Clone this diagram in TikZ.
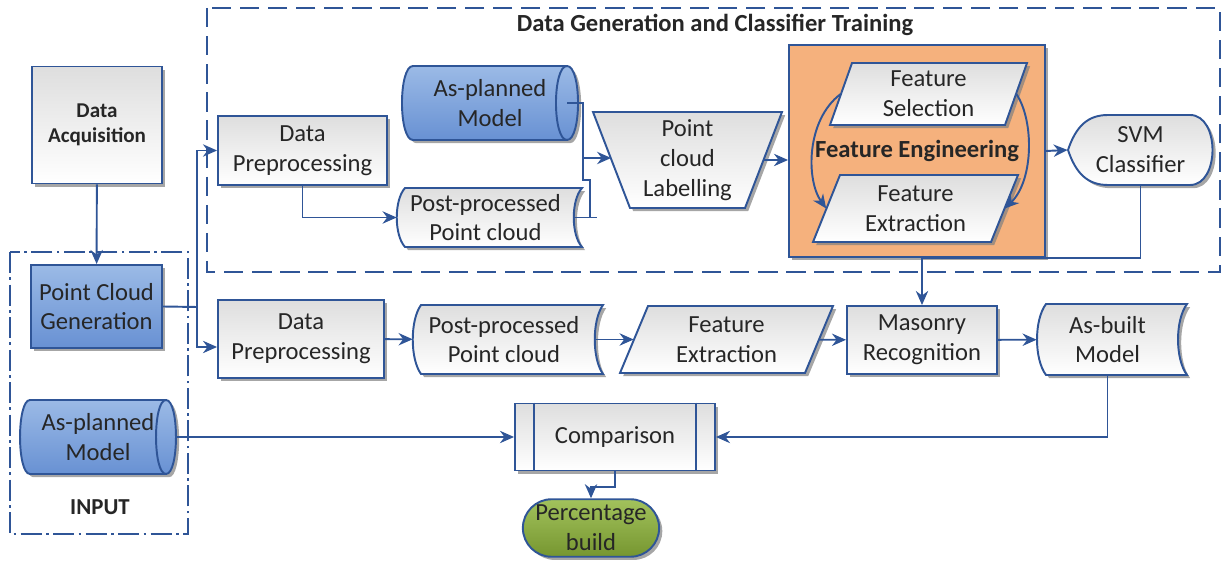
\documentclass[tikz,border=0pt]{standalone}
\usepackage{fontspec}
\setmainfont{Carlito}
\usetikzlibrary{calc,arrows.meta,shapes.geometric,shapes.misc,shadows}

\definecolor{lineblue}{RGB}{47,85,151}
\definecolor{blueA}{RGB}{155,186,230}
\definecolor{blueB}{RGB}{104,145,211}
\definecolor{grayA}{RGB}{222,222,222}
\definecolor{feorange}{RGB}{245,177,125}
\definecolor{greenA}{RGB}{162,194,92}
\definecolor{greenB}{RGB}{118,150,48}

\begin{document}
\begin{tikzpicture}[x=0.02cm, y=-0.02cm,
    every node/.style={font=\fontsize{14}{17}\selectfont, align=center, text=black!85},
    shd/.style={drop shadow={shadow xshift=1.8pt, shadow yshift=-1.8pt, fill=black!50, opacity=0.7}},
    graybox/.style={draw=lineblue, line width=1.1pt, top color=grayA, bottom color=white, shd},
    bluebox/.style={draw=lineblue, line width=1.1pt, top color=blueA, bottom color=blueB, shd},
    txt/.style={inner sep=0pt},
    link/.style={draw=lineblue, line width=1.1pt},
    arr/.style={link, -{Stealth[length=8pt,width=7pt]}},
    bold/.style={font=\bfseries\fontsize{14}{17}\selectfont}]
    \useasboundingbox (0,0) rectangle (1223,563);

    % Input side
    \node[graybox, minimum width=2.6cm, minimum height=2.34cm,
          font=\bfseries\fontsize{12}{14}\selectfont] (acq) at (97,125) {Data\\Acquisition};
    \draw[lineblue, line width=0.8pt, dash pattern=on 12pt off 2.5pt on 1.5pt off 2.5pt]
        (10,252) rectangle (188,534);
    \node[font=\bfseries\fontsize{13}{15}\selectfont] (inp) at (100,507) {INPUT};
    \node[bluebox, minimum width=2.62cm, minimum height=1.66cm] (pcg) at (96.5,306.5) {Point Cloud\\Generation};

    % As-planned model (input), cylinder
    \path[bluebox] (30,400) -- (166,400) .. controls (179.3,400) and (179.3,474) .. (166,474)
        -- (30,474) .. controls (16.7,474) and (16.7,400) .. cycle;
    \draw[link] (166,400) .. controls (152.7,400) and (152.7,474) .. (166,474);
    \node[txt, minimum width=3.12cm, minimum height=1.48cm] (apm0) at (98,437) {As-planned\\Model};

    % Data generation and classifier training
    \draw[lineblue, line width=0.8pt, dash pattern=on 11pt off 5pt] (207,8) rectangle (1220,272);
    \node[bold] (dgt) at (715,25) {Data Generation and Classifier Training};

    \node[graybox, minimum width=3.38cm, minimum height=1.38cm] (dp1) at (302.5,150.5) {Data\\Preprocessing};

    % As-planned model (top), cylinder
    \path[bluebox] (413,66) -- (567,66) .. controls (581.7,66) and (581.7,140) .. (567,140)
        -- (413,140) .. controls (398.3,140) and (398.3,66) .. cycle;
    \draw[link] (567,66) .. controls (552.3,66) and (552.3,140) .. (567,140);
    \node[txt, minimum width=3.52cm, minimum height=1.48cm] (apm1) at (490,103) {As-planned\\Model};

    % Post-processed point cloud (top)
    \path[graybox] (405,188) -- (582,188) .. controls (571,200) and (571,235) .. (582,247)
        -- (405,247) .. controls (394,235) and (394,200) .. cycle;
    \node[txt, minimum width=3.54cm, minimum height=1.18cm] (pp1) at (485.5,217.5) {Post-processed\\Point cloud};

    % Point cloud labelling
    \path[graybox] (593,112) -- (782,112) -- (745,208) -- (630,208) -- cycle;
    \node[txt, minimum width=3.04cm, minimum height=1.92cm] (lab) at (687.5,160) {Point\\cloud\\Labelling};

    % Feature engineering
    \node[draw=lineblue, line width=1.1pt, fill=feorange, shd, bold,
          minimum width=5.12cm, minimum height=4.24cm] (fe) at (917,151) {Feature Engineering};
    \path[graybox] (852,63) -- (1027,63) -- (1005,125) -- (830,125) -- cycle;
    \node[txt, minimum width=3.5cm, minimum height=1.24cm] (fs) at (928.5,94) {Feature\\Selection};
    \path[graybox] (840,175) -- (1018,175) -- (991,242) -- (813,242) -- cycle;
    \node[txt, minimum width=3.56cm, minimum height=1.34cm] (fx1) at (915.5,208.5) {Feature\\Extraction};
    \draw[arr] (fs.west) .. controls (806,120) and (806,180) .. (fx1.west);
    \draw[arr] (fs.east) .. controls (1034,120) and (1034,180) .. (fx1.east);

    % SVM classifier
    \path[graybox] (1068,150) .. controls (1076,126) and (1088,115) .. (1108,115) -- (1190,115)
        .. controls (1220,115) and (1220,185) .. (1190,185) -- (1108,185)
        .. controls (1088,185) and (1076,174) .. cycle;
    \node[txt, minimum width=2.9cm, minimum height=1.4cm] (svm) at (1140.5,150) {SVM\\Classifier};

    % Recognition row
    \node[graybox, minimum width=3.32cm, minimum height=1.56cm] (dp2) at (301,339) {Data\\Preprocessing};
    \path[graybox] (421,305) -- (603,305) .. controls (592,320) and (592,359) .. (603,374)
        -- (421,374) .. controls (410,359) and (410,320) .. cycle;
    \node[txt, minimum width=3.64cm, minimum height=1.38cm] (pp2) at (504,339.5) {Post-processed\\Point cloud};
    \path[graybox] (648,306) -- (833,306) -- (805,373) -- (620,373) -- cycle;
    \node[txt, minimum width=3.7cm, minimum height=1.34cm] (fx2) at (726.5,339.5) {Feature\\Extraction};
    \node[graybox, minimum width=3cm, minimum height=1.36cm] (mas) at (922,340) {Masonry\\Recognition};
    \path[graybox] (1046,304) -- (1187,304) .. controls (1175,320) and (1175,359) .. (1187,375)
        -- (1046,375) .. controls (1034,359) and (1034,320) .. cycle;
    \node[txt, minimum width=2.82cm, minimum height=1.42cm] (ab) at (1107.5,339.5) {As-built\\Model};

    % Comparison and result
    \node[graybox, minimum width=4cm, minimum height=1.34cm] (comp) at (615,437) {Comparison};
    \draw[link] ([xshift=0.4cm]comp.north west) -- ([xshift=0.4cm]comp.south west);
    \draw[link] ([xshift=-0.4cm]comp.north east) -- ([xshift=-0.4cm]comp.south east);
    \node[rounded rectangle, draw=lineblue, line width=1.1pt, top color=greenA, bottom color=greenB, shd,
          minimum width=2.96cm, minimum height=1.12cm] (pct) at (591,528) {Percentage\\build};

    % Connectors
    \coordinate (split) at (197,307);
    \coordinate (jn) at (583,158);
    \draw[arr] (acq) -- (pcg);
    \draw[link] (pcg.east) -- (split);
    \draw[arr] (split) |- (dp1.west);
    \draw[arr] (split) |- ([yshift=-0.16cm]dp2.west);
    \draw[arr] (dp1.south) |- (pp1.west);
    \draw[link] ([xshift=-0.22cm]apm1.east) -| (jn);
    \draw[link] (pp1.east) -- (597,217.5);
    \draw[link] (590,217.5) |- (583,180) -- (jn);
    \draw[arr] (jn) -- (jn -| lab.west);
    \draw[arr] (lab.east) -- (lab.east -| fe.west);
    \draw[arr] (fe.east) -- (svm.west);
    \draw[arr] (svm.south) |- (fe.south -| mas.north) -- (mas.north);
    \draw[arr] (dp2) -- (pp2);
    \draw[arr] (pp2) -- (fx2);
    \draw[arr] (fx2) -- (mas);
    \draw[arr] (mas) -- (ab);
    \draw[arr] (ab.south) |- (comp.east);
    \draw[arr] (apm0.east) -- (apm0.east -| comp.west);
    \draw[arr] (comp.south) -- ++(0,16) -| (pct.north);
\end{tikzpicture}
\end{document}
